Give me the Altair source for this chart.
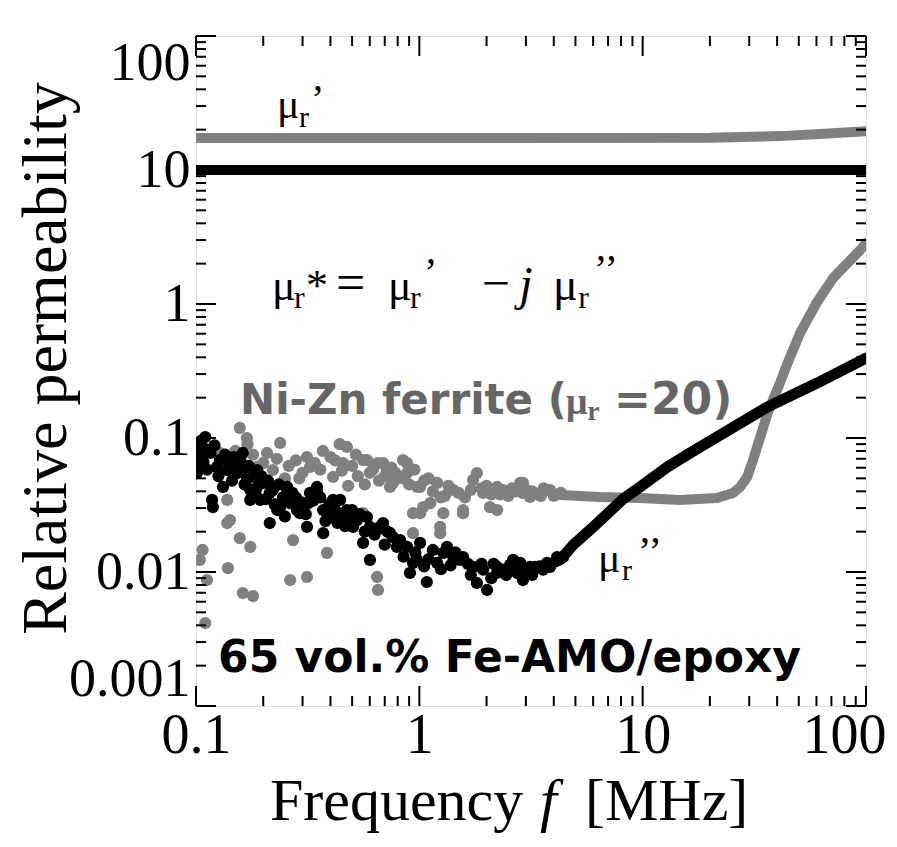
import altair as alt
import pandas as pd

# ---------------- data ----------------
black_mu1_f = [0.1, 100]
black_mu1_v = [10, 10]

gray_mu1_f = [0.1, 20, 41, 62, 100]
gray_mu1_v = [17.3, 17.4, 17.9, 18.6, 19.5]

black_sc_f = [0.100, 0.110, 0.104, 0.101, 0.116, 0.118, 0.124, 0.132, 0.142, 0.153, 0.162, 0.175, 0.188, 0.194,
              0.214, 0.231, 0.256, 0.264, 0.292, 0.324, 0.348, 0.371, 0.411, 0.455, 0.526, 0.601, 0.119, 0.147,
              0.162, 0.175, 0.188, 0.214, 0.238, 0.256, 0.283, 0.314, 0.348, 0.371, 0.411, 0.442, 0.505, 0.560,
              0.601, 0.667, 0.739, 0.820, 0.908, 0.937, 1.08, 1.15, 1.33, 1.52, 1.74, 2.01, 2.23, 2.63, 3.13,
              3.73, 4.40, 0.647, 0.794, 1.008, 1.28, 1.57, 1.81, 2.23, 2.63, 2.91, 3.58, 4.14, 0.474, 0.583,
              0.688, 0.762, 0.881, 0.977, 1.20, 1.42, 1.93, 2.37, 2.83, 3.30, 3.85, 0.107, 0.104, 0.101, 0.113,
              0.128, 0.138, 0.154, 0.169, 0.200, 0.221, 0.272, 0.318, 0.386, 0.430, 0.500,
              0.105, 0.108, 0.112, 0.121, 0.126, 0.135, 0.145, 0.150, 0.158, 0.165, 0.172, 0.180, 0.185, 0.196,
              0.205, 0.210, 0.225, 0.235, 0.245, 0.250, 0.270, 0.280, 0.300, 0.310, 0.335, 0.360, 0.380, 0.395,
              0.420, 0.465, 0.490, 0.540, 0.570, 0.630, 0.700, 0.720, 0.850, 0.960, 1.05, 1.10, 1.25, 1.38,
              1.45, 1.65, 1.70, 1.90, 2.10, 2.15, 2.45, 2.55, 2.75, 3.00, 3.20, 3.45]
black_sc_v = [0.0786, 0.1017, 0.0721, 0.0548, 0.0773, 0.0345, 0.0608, 0.0431, 0.0650, 0.0548, 0.0773, 0.0409,
              0.0577, 0.0345, 0.0389, 0.0290, 0.0431, 0.0327, 0.0275, 0.0389, 0.0431, 0.0290, 0.0345, 0.0257,
              0.0244, 0.0217, 0.0305, 0.0721, 0.0577, 0.0345, 0.0431, 0.0232, 0.0305, 0.0409, 0.0290, 0.0217,
              0.0409, 0.0195, 0.0257, 0.0345, 0.0217, 0.0165, 0.0123, 0.0217, 0.0195, 0.0173, 0.00984, 0.0117,
              0.00842, 0.0146, 0.0154, 0.0123, 0.0109, 0.00734, 0.00984, 0.0109, 0.0109, 0.0117, 0.0129, 0.0206,
              0.0154, 0.0165, 0.0139, 0.0129, 0.00828, 0.0109, 0.0123, 0.00871, 0.0104, 0.0129, 0.0290, 0.0257,
              0.0232, 0.0182, 0.0154, 0.0123, 0.0117, 0.0129, 0.0104, 0.0104, 0.0117, 0.0109, 0.0109, 0.0857,
              0.0918, 0.0650, 0.0813, 0.0685, 0.0577, 0.0650, 0.0486, 0.0462, 0.0409, 0.0345, 0.0327, 0.0275,
              0.0232, 0.0290,
              0.095, 0.066, 0.058, 0.088, 0.052, 0.075, 0.048, 0.062, 0.068, 0.045, 0.062, 0.052, 0.038, 0.052,
              0.035, 0.048, 0.032, 0.045, 0.036, 0.026, 0.039, 0.036, 0.033, 0.027, 0.034, 0.036, 0.024, 0.032,
              0.029, 0.022, 0.026, 0.027, 0.020, 0.019, 0.016, 0.020, 0.013, 0.014, 0.011, 0.0125, 0.0105, 0.0112,
              0.014, 0.0115, 0.0095, 0.0115, 0.009, 0.0115, 0.0095, 0.0113, 0.0098, 0.0102, 0.0095, 0.011]

gray_sc_f = [0.157, 0.169, 0.238, 0.208, 0.221, 0.314, 0.324, 0.474, 0.455, 0.411, 0.560, 0.583, 0.138, 0.142,
             0.128, 0.132, 0.188, 0.716, 0.881, 0.762, 1.008, 1.20, 1.42, 1.74, 2.23, 2.83, 3.73, 1.04, 1.57,
             0.560, 0.138, 0.157, 0.175, 0.272, 0.386, 0.264, 0.314, 0.647, 0.653, 0.162, 0.180, 0.107, 0.104,
             0.112, 0.139, 1.24, 1.24, 0.937, 0.110, 0.688, 0.845, 0.881, 0.739, 0.977, 1.008, 1.12, 1.28, 1.57,
             1.81, 1.93, 2.07, 2.23, 2.37, 2.91, 3.13, 3.85, 0.937, 1.30, 1.60, 1.90, 2.10, 2.50, 2.70, 3.00,
             3.40, 3.60, 4.00, 4.30, 0.26, 0.29, 0.36, 0.40, 0.50, 0.53, 0.62, 0.66, 0.78, 0.85, 0.95, 1.10,
             0.48, 0.57,
             1.15, 1.35, 1.50, 1.70, 2.00, 2.30, 2.60, 2.90, 3.20, 3.50, 1.05, 1.25, 0.90, 0.80, 0.70, 0.60,
             0.45, 0.42, 0.34, 0.30, 0.28, 0.25, 0.23, 0.20, 0.18, 0.15, 0.17, 0.37, 0.44, 0.52, 0.65, 0.75]
gray_sc_v = [0.119, 0.100, 0.0918, 0.0773, 0.0577, 0.0721, 0.0608, 0.0857, 0.0650, 0.0512, 0.0685, 0.0685,
             0.0345, 0.0244, 0.0773, 0.0577, 0.0608, 0.0577, 0.0650, 0.0462, 0.0431, 0.0462, 0.0409, 0.0486,
             0.0431, 0.0462, 0.0409, 0.0305, 0.0275, 0.0275, 0.0232, 0.0179, 0.0154, 0.0173, 0.0139, 0.00871,
             0.00918, 0.00918, 0.00734, 0.00697, 0.00662, 0.0146, 0.0123, 0.00871, 0.0107, 0.0217, 0.0195,
             0.0195, 0.00416, 0.0650, 0.0685, 0.0548, 0.0431, 0.0431, 0.0275, 0.0327, 0.0275, 0.0290, 0.0548,
             0.0389, 0.0305, 0.0290, 0.0409, 0.0462, 0.0363, 0.0409, 0.0275, 0.037, 0.036, 0.042, 0.038, 0.037,
             0.040, 0.041, 0.038, 0.042, 0.037, 0.039, 0.062, 0.050, 0.058, 0.072, 0.062, 0.052, 0.058, 0.048,
             0.055, 0.050, 0.058, 0.050, 0.044, 0.045,
             0.040, 0.044, 0.039, 0.041, 0.044, 0.038, 0.042, 0.039, 0.040, 0.037, 0.048, 0.036, 0.045, 0.050,
             0.052, 0.055, 0.057, 0.068, 0.065, 0.055, 0.068, 0.050, 0.070, 0.065, 0.075, 0.080, 0.090, 0.080,
             0.090, 0.075, 0.065, 0.060]

black_cv_f = [3.47, 4.27, 4.88, 5.81, 6.93, 8.17, 9.73, 12.9, 16.3, 21.5, 36.1, 60.4, 100]
black_cv_v = [0.0107, 0.0123, 0.0159, 0.0206, 0.0271, 0.0351, 0.0431, 0.0608, 0.0773, 0.1017, 0.170, 0.257, 0.395]

gray_cv_f = [4.27, 6.44, 9.73, 14.7, 21.5, 25.4, 27.3, 29.4, 31.2, 33.6, 36.4, 40.0, 43.0, 45.7, 50.7, 60.4,
             71.3, 94.2, 100]
gray_cv_v = [0.0376, 0.0363, 0.0357, 0.0345, 0.0357, 0.0389, 0.0431, 0.0512, 0.0685, 0.1017, 0.1563, 0.228,
             0.311, 0.402, 0.608, 1.035, 1.563, 2.53, 2.85]

x_major = [0.1, 1, 10, 100]
x_minor = [0.2, 0.3, 0.4, 0.5, 0.6, 0.7, 0.8, 0.9, 2, 3, 4, 5, 6, 7, 8, 9, 20, 30, 40, 50, 60, 70, 80, 90]
y_major = [0.001, 0.01, 0.1, 1, 10, 100]
y_minor = [m * d for d in [0.001, 0.01, 0.1, 1, 10] for m in [2, 3, 4, 5, 6, 7, 8, 9]]

W, H = 670, 670
GRAY = "#808080"
TGRAY = "#666666"
SERIF = "Liberation Serif"
SANS = "DejaVu Sans"

xs = alt.Scale(type="log", domain=[0.1, 100], nice=False)
ys = alt.Scale(type="log", domain=[0.001, 100], nice=False)

x_axis = alt.Axis(values=x_major, format="~g", ticks=False, domain=False, grid=False,
                  labelFont=SERIF, labelFontSize=56, labelColor="black", labelPadding=2,
                  labelFlush=False, labelOverlap=False,
                  labelOffset={"condition": {"test": "datum.value >= 100", "value": -22}, "value": 0})
y_axis = alt.Axis(values=y_major, format="~g", ticks=False, domain=False, grid=False,
                  labelFont=SERIF, labelFontSize=54, labelColor="black", labelPadding=6,
                  labelFlush=True, labelOverlap=False,
                  titleFont=SERIF, titleFontSize=64, titleFontWeight="normal", titleColor="black",
                  titleAngle=270, titleX=-150, titleY=322, titleAlign="center", titleBaseline="middle")

X = alt.X("f:Q", scale=xs, axis=x_axis, title="")
Y = alt.Y("v:Q", scale=ys, axis=y_axis, title="Relative permeability")


def df(f, v):
    return pd.DataFrame({"f": f, "v": v})


layers = []
# data
layers.append(alt.Chart(df(gray_sc_f, gray_sc_v)).mark_circle(size=150, color=GRAY, opacity=1, clip=True).encode(x=X, y=Y))
layers.append(alt.Chart(df(gray_cv_f, gray_cv_v)).mark_line(color=GRAY, strokeWidth=10, strokeCap="round", strokeJoin="round", clip=True).encode(x=X, y=Y))
layers.append(alt.Chart(df(gray_mu1_f, gray_mu1_v)).mark_line(color=GRAY, strokeWidth=10, strokeCap="round", clip=True).encode(x=X, y=Y))
layers.append(alt.Chart(df(black_sc_f, black_sc_v)).mark_circle(size=150, color="black", opacity=1, clip=True).encode(x=X, y=Y))
layers.append(alt.Chart(df(black_cv_f, black_cv_v)).mark_line(color="black", strokeWidth=11, strokeCap="round", strokeJoin="round", clip=True).encode(x=X, y=Y))
layers.append(alt.Chart(df(black_mu1_f, black_mu1_v)).mark_line(color="black", strokeWidth=10, strokeCap="round", clip=True).encode(x=X, y=Y))


# inward ticks on all four sides
def xticks(vals, ln):
    d = pd.DataFrame({"f": vals})
    bot = alt.Chart(d).mark_rule(color="black", strokeWidth=2).encode(x=X, y=alt.value(H), y2=alt.value(H - ln))
    top = alt.Chart(d).mark_rule(color="black", strokeWidth=2).encode(x=X, y=alt.value(0), y2=alt.value(ln))
    return [bot, top]


def yticks(vals, ln):
    d = pd.DataFrame({"v": vals})
    lef = alt.Chart(d).mark_rule(color="black", strokeWidth=2).encode(y=Y, x=alt.value(0), x2=alt.value(ln))
    rig = alt.Chart(d).mark_rule(color="black", strokeWidth=2).encode(y=Y, x=alt.value(W - ln), x2=alt.value(W))
    return [lef, rig]


layers += xticks(x_major, 20) + xticks(x_minor, 10) + yticks(y_major, 20) + yticks(y_minor, 10)

# annotations: (text, f, v, font, size, style, weight, color)
ann = [
    ("μ", 0.2306, 24.4, SERIF, 42, "normal", "normal", "black"),
    ("r", 0.2892, 20.9, SERIF, 30, "normal", "normal", "black"),
    ("’", 0.3273, 27.1, SERIF, 40, "normal", "normal", "black"),

    ("μ", 0.2190, 1.071, SERIF, 44, "normal", "normal", "black"),
    ("r", 0.2748, 0.9335, SERIF, 32, "normal", "normal", "black"),
    ("*", 0.3108, 1.071, SERIF, 44, "normal", "normal", "black"),
    ("=", 0.4236, 1.071, SERIF, 52, "normal", "normal", "black"),
    ("μ", 0.7242, 1.071, SERIF, 44, "normal", "normal", "black"),
    ("r", 0.9087, 0.9335, SERIF, 32, "normal", "normal", "black"),
    ("’", 1.050, 1.386, SERIF, 40, "normal", "normal", "black"),
    ("−", 1.905, 1.071, SERIF, 50, "normal", "normal", "black"),
    ("j", 2.80, 1.071, SERIF, 48, "italic", "normal", "black"),
    ("μ", 3.971, 1.071, SERIF, 46, "normal", "normal", "black"),
    ("r", 5.15, 0.9335, SERIF, 32, "normal", "normal", "black"),
    ("’’", 6.059, 1.459, SERIF, 40, "normal", "normal", "black"),

    ("Ni-Zn ferrite (", 0.1574, 0.1510, SANS, 42, "normal", "bold", TGRAY),
    ("μ", 4.539, 0.1510, SERIF, 38, "normal", "bold", TGRAY),
    ("r", 5.65, 0.1362, SERIF, 28, "normal", "bold", TGRAY),
    ("=20)", 7.45, 0.1510, SANS, 44, "normal", "bold", TGRAY),

    ("μ", 6.314, 0.01, SERIF, 42, "normal", "normal", "black"),
    ("r", 8.088, 0.008716, SERIF, 30, "normal", "normal", "black"),
    ("’’", 9.537, 0.01147, SERIF, 40, "normal", "normal", "black"),

    ("65 vol.% Fe-AMO/epoxy", 0.1255, 0.001794, SANS, 44, "normal", "bold", "black"),
]
for t, f, v, font, size, style, weight, color in ann:
    layers.append(
        alt.Chart(pd.DataFrame({"f": [f], "v": [v]})).mark_text(
            text=t, font=font, fontSize=size, fontStyle=style, fontWeight=weight, color=color,
            align="left", baseline="alphabetic"
        ).encode(x=X, y=Y)
    )

# x-axis title with italic f
xt = [("Frequency", 74, "normal"), ("f", 344, "italic"), ("[MHz]", 389, "normal")]
for t, px, style in xt:
    layers.append(
        alt.Chart(pd.DataFrame({"a": [0]})).mark_text(
            text=t, font=SERIF, fontSize=60, fontStyle=style, color="black",
            align="left", baseline="alphabetic"
        ).encode(x=alt.value(px), y=alt.value(784))
    )

chart = alt.layer(*layers).properties(
    width=W, height=H, autosize=alt.AutoSizeParams(type="none"),
    padding={"left": 188, "top": 28, "right": 23, "bottom": 133},
).configure_view(stroke="black", strokeWidth=2.5).configure(background="white")

chart.save("out.html", embed_options={"renderer": "svg", "actions": False})
